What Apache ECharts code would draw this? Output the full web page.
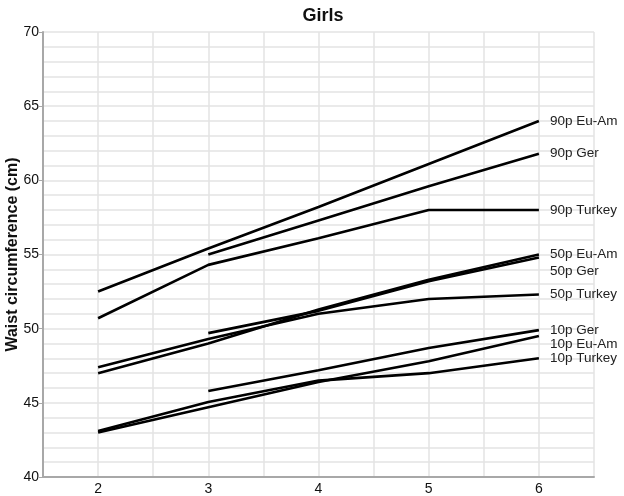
<!DOCTYPE html>
<html>
<head>
<meta charset="utf-8">
<script src="https://cdn.jsdelivr.net/npm/echarts@6/dist/echarts.min.js"></script>
<style>
html,body{margin:0;padding:0;background:#fff;}
#c{width:624px;height:496px;}
</style>
</head>
<body>
<div id="c"></div>
<script>
var ages = [2, 3, 4, 5, 6];
var p90EuAm  = [52.5, 55.4, 58.2, 61.1, 64.0];
var p90Ger   = [null, 55.0, 57.3, 59.6, 61.8];
var p90Turkey= [50.7, 54.3, 56.1, 58.0, 58.0];
var p50EuAm  = [47.0, 49.0, 51.3, 53.3, 55.0];
var p50Ger   = [null, 49.7, 51.2, 53.2, 54.8];
var p50Turkey= [47.4, 49.3, 51.0, 52.0, 52.3];
var p10Ger   = [null, 45.8, 47.2, 48.7, 49.9];
var p10EuAm  = [43.0, 44.7, 46.4, 47.8, 49.5];
var p10Turkey= [43.1, 45.05, 46.5, 47.0, 48.0];
var seriesNames = ['90p Eu-Am','90p Ger','90p Turkey','50p Eu-Am','50p Ger','50p Turkey','10p Ger','10p Eu-Am','10p Turkey'];
var seriesData = [p90EuAm,p90Ger,p90Turkey,p50EuAm,p50Ger,p50Turkey,p10Ger,p10EuAm,p10Turkey];
var labelShift = {'50p Ger':14, '10p Eu-Am':8};

function pairs(vals){
  var out=[];
  for(var i=0;i<ages.length;i++){ if(vals[i]!==null) out.push([ages[i],vals[i]]); }
  return out;
}

var FONT = 'Liberation Sans, Arial, sans-serif';
var series = seriesNames.map(function(n,i){
  return {
    name:n, type:'line', data:pairs(seriesData[i]),
    showSymbol:false, symbol:'none',
    lineStyle:{color:'#000', width:2.6},
    itemStyle:{color:'#000'},
    endLabel:{show:true, formatter:n, distance:11, offset:[0, labelShift[n]||0],
      color:'#222', fontSize:13.5, fontFamily:FONT}
  };
});

var chart = echarts.init(document.getElementById('c'));
chart.setOption({
  animation:false,
  backgroundColor:'#fff',
  title:{text:'Girls', left:318, textAlign:'center', top:2,
    textStyle:{fontSize:18, fontWeight:'bold', color:'#111', fontFamily:FONT}},
  grid:{left:43, right:30, top:32, bottom:19, containLabel:false, outerBoundsMode:'none'},
  xAxis:{type:'value', min:1.5, max:6.5, interval:0.5,
    axisLine:{lineStyle:{color:'#a8a8a8', width:2}},
    axisTick:{show:false},
    axisLabel:{color:'#111', fontSize:14, margin:5, fontFamily:FONT,
      formatter:function(v){ return (Math.abs(v-Math.round(v))<1e-6 && v>1.6 && v<6.4) ? String(Math.round(v)) : ''; }},
    splitLine:{show:true, lineStyle:{color:'#e3e3e3', width:1.5}}
  },
  yAxis:{type:'value', min:40, max:70, interval:5,
    name:'Waist circumference (cm)', nameLocation:'middle', nameGap:22, nameRotate:90,
    nameMoveOverlap:false,
    nameTextStyle:{fontSize:16, fontWeight:'bold', color:'#111', fontFamily:FONT},
    axisLine:{show:true, lineStyle:{color:'#a8a8a8', width:2}},
    axisTick:{show:true, length:4, lineStyle:{color:'#a8a8a8'}},
    axisLabel:{color:'#111', fontSize:14, margin:4, fontFamily:FONT},
    splitLine:{show:true, lineStyle:{color:'#e3e3e3', width:1.5}},
    minorTick:{show:false, splitNumber:5},
    minorSplitLine:{show:true, lineStyle:{color:'#e3e3e3', width:1.5}}
  },
  series:series
});
</script>
</body>
</html>
